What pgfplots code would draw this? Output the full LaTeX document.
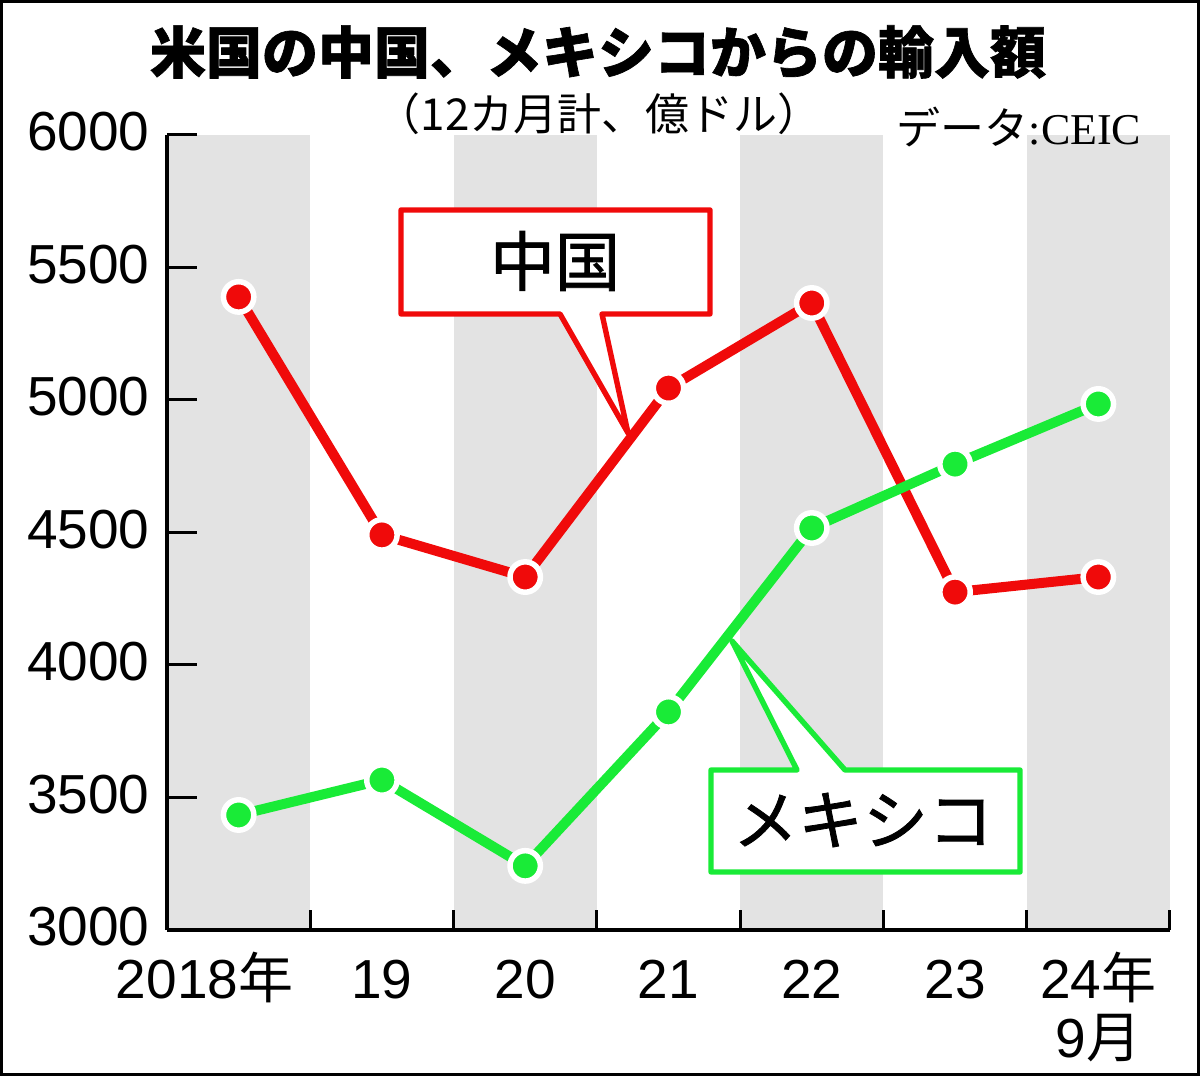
\documentclass[border=0pt]{standalone}
\usepackage{pgfplots}
\pgfplotsset{compat=1.18}
\usepackage{fontspec}
\setmainfont{Liberation Sans}
\newfontfamily\cjk{Noto Sans CJK JP}
\newfontfamily\cjkm[FakeBold=1.2]{Noto Sans CJK JP}
\newfontfamily\cjkt[FakeBold=1.2]{Noto Sans CJK JP}
\newfontfamily\serif{Liberation Serif}
\definecolor{cnred}{RGB}{240,10,10}
\definecolor{mxgreen}{RGB}{25,235,55}
\definecolor{band}{RGB}{227,227,227}
\newcommand\R{\rule{0pt}{0.9em}}

\begin{document}
\begin{tikzpicture}
\begin{axis}[
  scale only axis, width=501.5pt, height=397.5pt,
  xmin=0,xmax=7,ymin=3000,ymax=6000,
  axis lines*=left,
  axis line style={line width=1.8pt},
  axis on top,
  clip=false,
  tick align=inside,
  tick style={black,line width=1.5pt},
  major tick length=15pt, minor tick length=10pt,
  ytick={3000,3500,...,6000},
  yticklabels={3000,3500,4000,4500,5000,5500,6000},
  yticklabel style={font=\fontsize{27.5}{30}\selectfont, anchor=east, inner sep=0pt, xshift=-8.5pt, yshift=1.5pt},
  xtick={1.5,2.5,3.5,4.5,5.5,6.5},
  xticklabels={{\R19},{\R20},{\R21},{\R22},{\R23},{\R24{\cjk 年}\\9{\cjk 月}}},
  minor xtick={1,2,3,4,5,6,7},
  major x tick style={draw=none},
  xticklabel style={font=\fontsize{27.5}{29.5}\selectfont, anchor=north, align=center, inner sep=0pt, yshift=-9.25pt},
  extra x ticks={0.5},
  extra x tick labels={{\R2018{\cjk 年}}},
  extra x tick style={major tick length=0pt, xticklabel style={xshift=-17pt}},
]
\fill[band] (axis cs:0,3000) rectangle (axis cs:1,6000);
\fill[band] (axis cs:2,3000) rectangle (axis cs:3,6000);
\fill[band] (axis cs:4,3000) rectangle (axis cs:5,6000);
\fill[band] (axis cs:6,3000) rectangle (axis cs:7,6000);

\addplot[cnred, line width=5pt, line join=round, mark=*, mark size=7.6pt,
  mark options={fill=cnred, draw=white, line width=2.75pt, solid}]
  coordinates {(0.5,5389) (1.5,4491) (2.5,4332) (3.5,5045) (4.5,5366) (5.5,4275) (6.5,4332)};
\addplot[mxgreen, line width=5pt, line join=round, mark=*, mark size=7.6pt,
  mark options={fill=mxgreen, draw=white, line width=2.75pt, solid}]
  coordinates {(0.5,3434) (1.5,3566) (2.5,3242) (3.5,3823) (4.5,4517) (5.5,4758) (6.5,4985)};
\end{axis}

\begin{scope}[x=0.5pt,y=-0.5pt,shift={(-167,-930)}]
  % frame
  \draw[line width=1.5pt] (1.5,1.5) rectangle (1198.5,1074.5);
  % titles
  \node[font=\cjkt\bfseries\fontsize{28}{30}\selectfont] at (598,52) {米国の中国、メキシコからの輸入額};
  \node[font=\cjk\fontsize{22}{24}\selectfont] at (599,114) {（12カ月計、億ドル）};
  \node[font=\fontsize{22}{24}\selectfont] at (1019,127) {{\cjk データ}{\serif :CEIC}};
  % callout China
  \draw[cnred, line width=2.7pt, fill=white, line join=round]
    (401,210) -- (710,210) -- (710,314) -- (602,314) -- (628,433) -- (560,314) -- (401,314) -- cycle;
  \node[font=\cjkm\fontsize{32.5}{34}\selectfont] at (555,261) {中国};
  % callout Mexico
  \draw[mxgreen, line width=2.7pt, fill=white, line join=round]
    (711,770) -- (797,770) -- (732,641) -- (845,770) -- (1020,770) -- (1020,872) -- (711,872) -- cycle;
  \node[font=\cjkm\fontsize{32.5}{34}\selectfont] at (863,820) {メキシコ};
\end{scope}
\end{tikzpicture}
\end{document}
